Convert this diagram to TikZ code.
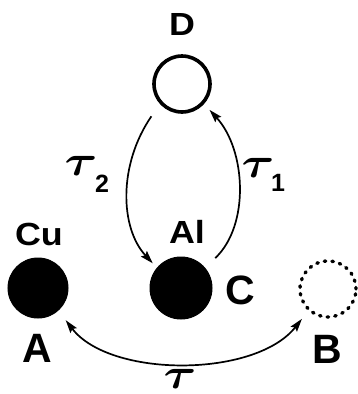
\documentclass[tikz,border=0pt]{standalone}
\usepackage{fontspec}
\usepackage{bm}
\setmainfont{Liberation Sans}
\newfontfamily\widesans[FakeStretch=1.12]{Liberation Sans}
\usetikzlibrary{arrows.meta}
\newcommand{\mytau}{\scalebox{5}[4.3]{$\bm{\tau}$}}
\begin{document}
\begin{tikzpicture}[x=1pt,y=-1pt,
  lbl/.style={inner sep=0pt,font=\widesans\fontsize{32}{33}\selectfont\bfseries},
  biglbl/.style={inner sep=0pt,font=\fontsize{41}{42}\selectfont\bfseries},
  taulbl/.style={inner sep=0pt,font=\normalsize},
  sublbl/.style={inner sep=0pt,font=\fontsize{25}{25}\selectfont\bfseries},
  ring/.style={circle,draw,line width=3.6pt,minimum size=56pt,inner sep=0pt},
  ball/.style={circle,fill=black,draw,line width=1pt,minimum size=#1,inner sep=0pt},
  ghost/.style={circle,draw,line width=3.4pt,line cap=round,dash pattern=on 1.5pt off 6.2pt,minimum size=56pt,inner sep=0pt},
  conn/.style={line width=1.7pt,-{Stealth[length=13pt,width=8pt,inset=2pt]}},
  conn2/.style={line width=1.7pt,{Stealth[length=13pt,width=8pt,inset=2pt]}-{Stealth[length=13pt,width=8pt,inset=2pt]}}
]
\useasboundingbox (0,0) rectangle (358,394);
\node[ring] (D) at (182,84) {};
\node[ball=60pt] (A) at (38,288) {};
\node[ball=62pt] (C) at (181,288) {};
\node[ghost] (B) at (328,289) {};
\node[lbl] (Dt) at (182,24) {D};
\node[lbl] (Cu) at (39,234) {Cu};
\node[lbl] (Al) at (187,232) {Al};
\node[biglbl] (Ct) at (240,290) {C};
\node[biglbl] (At) at (37,348) {A};
\node[biglbl] (Bt) at (327,349) {B};
\node[taulbl] (t2) at (81,166) {\mytau};
\node[sublbl] (t2s) at (102,184) {2};
\node[taulbl] (t1) at (258,168) {\mytau};
\node[sublbl] (t1s) at (278,183) {1};
\node[taulbl] (t) at (180,379) {\mytau};
\draw[conn,shorten <=15pt,shorten >=6pt] (D.222) .. controls (118,165) and (120,228) .. (C.140);
\draw[conn,shorten <=14pt,shorten >=8pt] (C.40.6) .. controls (250,225) and (246,150) .. (D.318);
\draw[conn2,shorten <=12pt,shorten >=10pt] (A.312) .. controls (110,378) and (255,378) .. (B.228);
\end{tikzpicture}
\end{document}
